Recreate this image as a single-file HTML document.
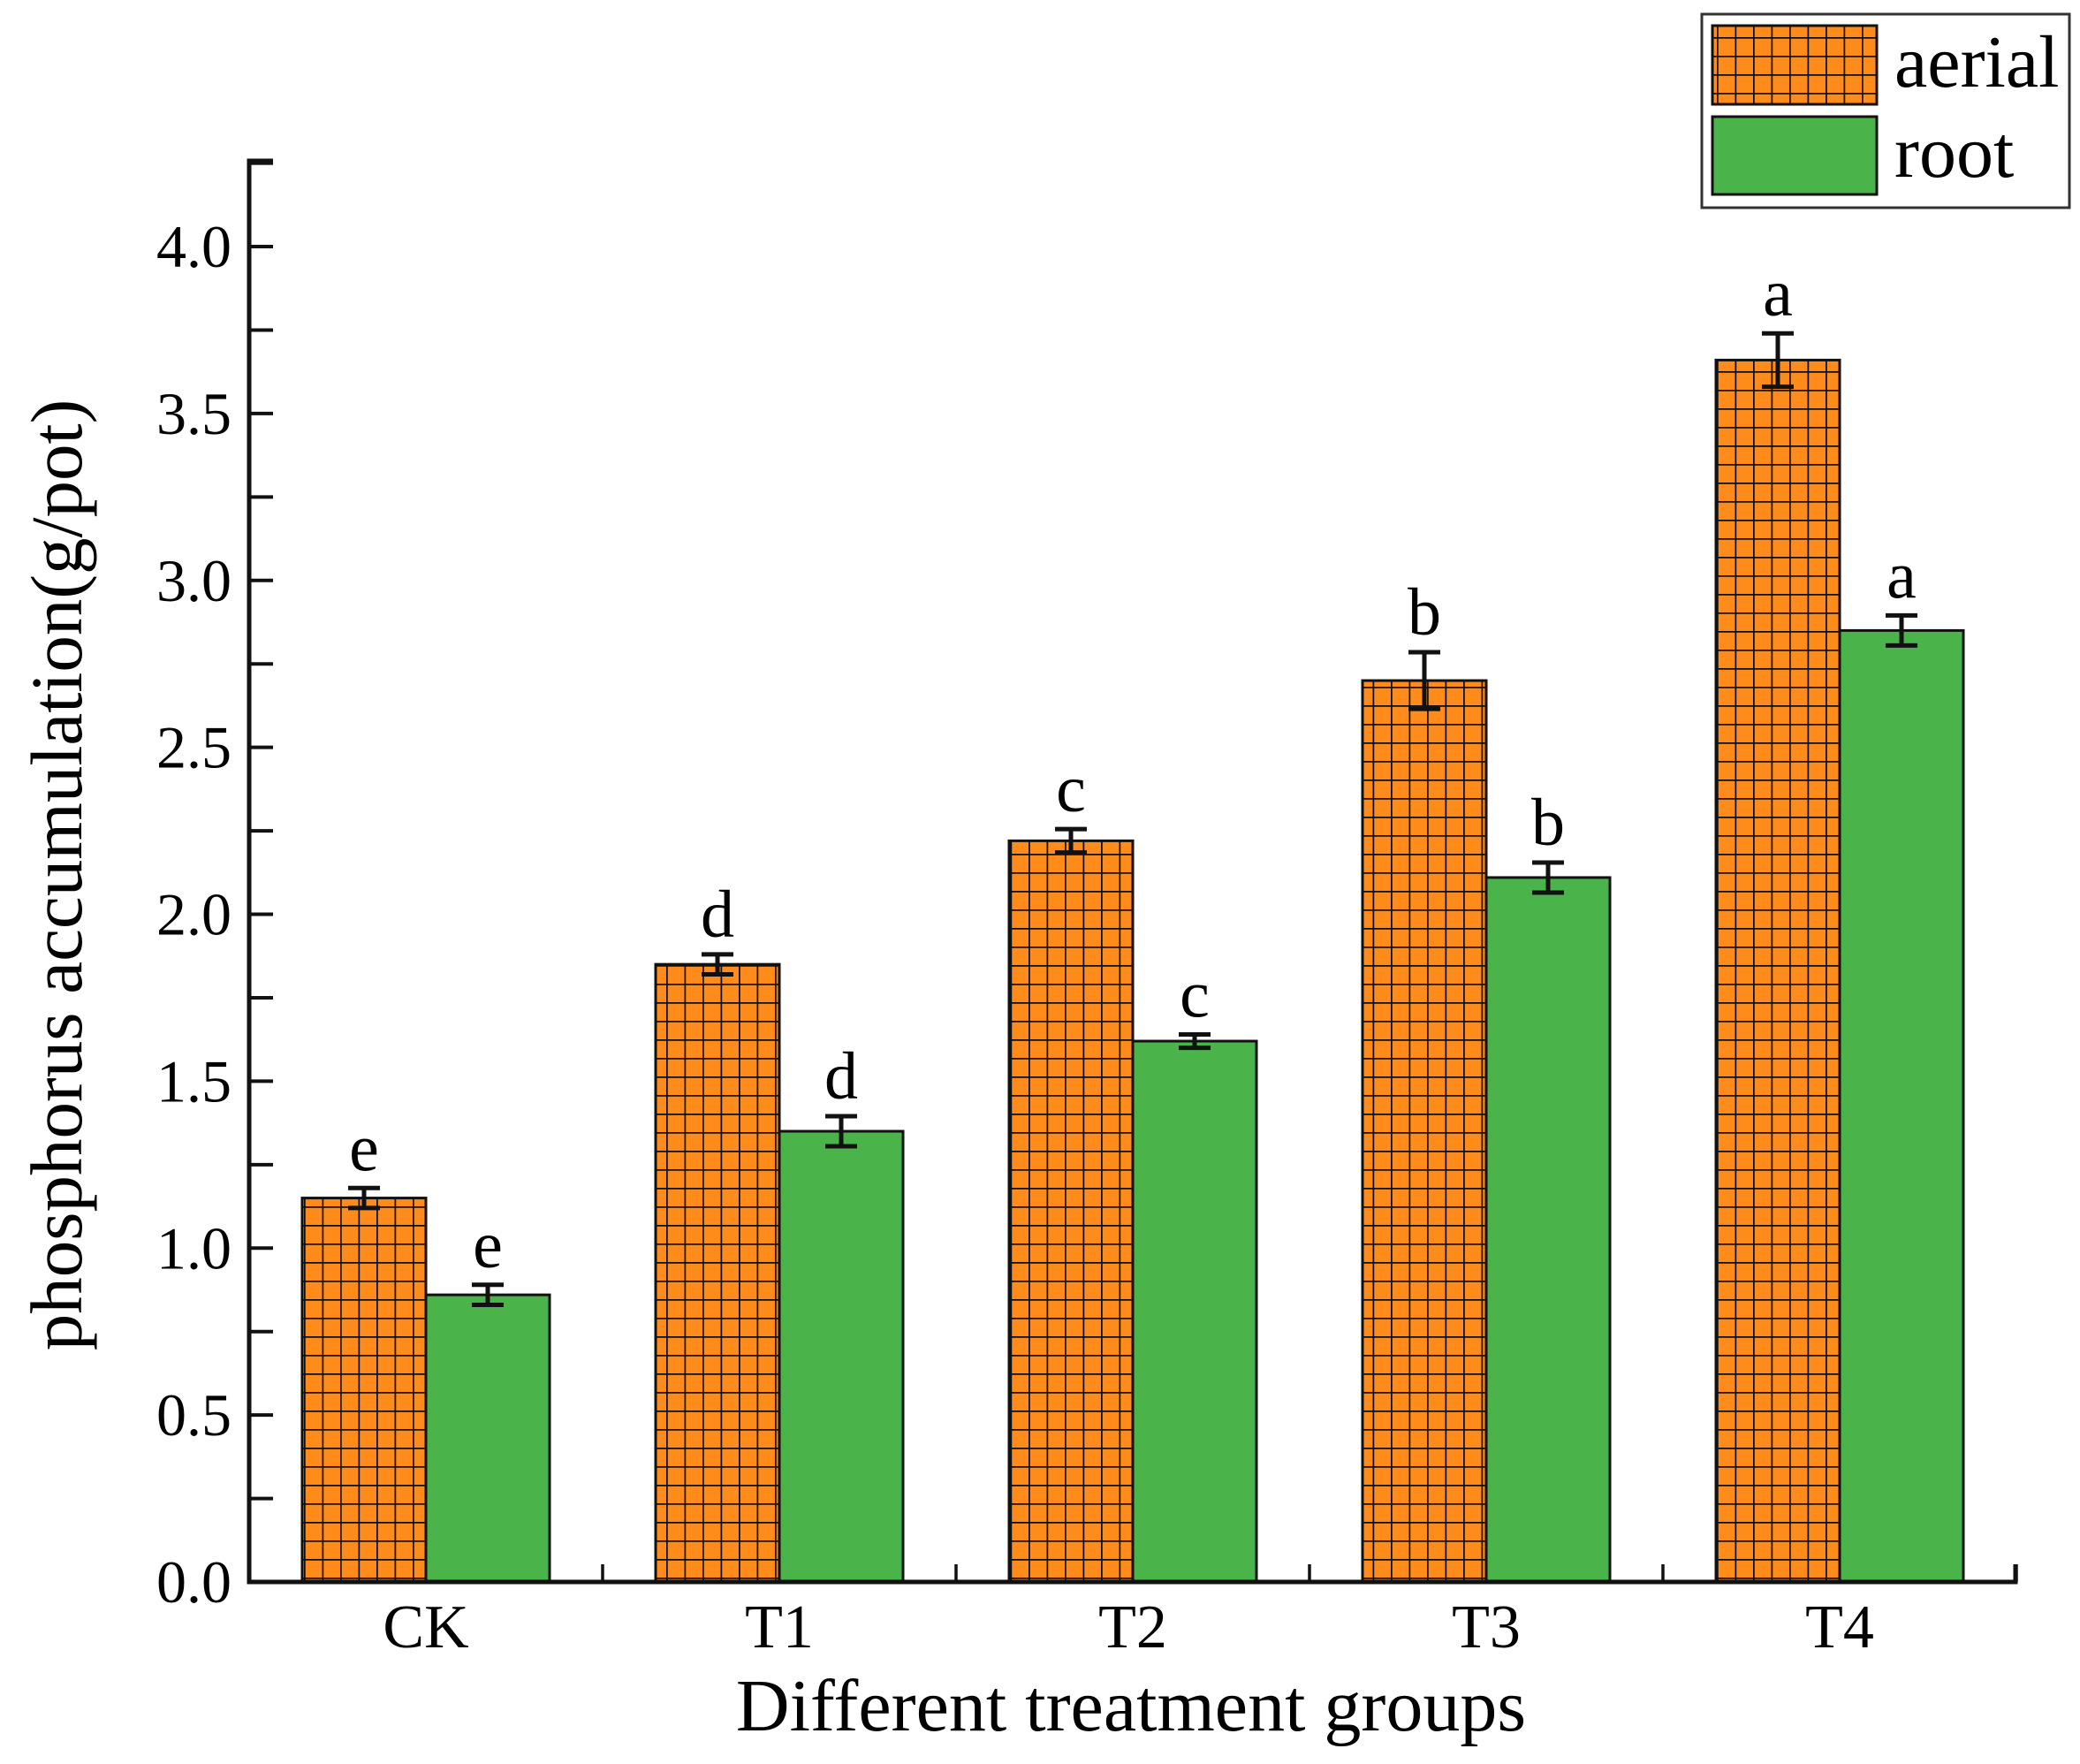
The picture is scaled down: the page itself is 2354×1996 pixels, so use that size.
<!DOCTYPE html>
<html><head><meta charset="utf-8"><style>
html,body{margin:0;padding:0;background:#fff;}
svg{display:block;font-family:"Liberation Serif",serif;}
</style></head><body>
<svg id="chart" width="2354" height="1996" viewBox="0 0 2354 1996" xmlns="http://www.w3.org/2000/svg">
<defs>
<pattern id="grid" patternUnits="userSpaceOnUse" width="20.5" height="21" x="344" y="0">
<rect width="20.5" height="21" fill="#ff8c1a"/>
<path d="M0 0V21M0 0H20.5" stroke="#111" stroke-width="3.5" fill="none"/>
</pattern>
</defs>
<g id="plot"></g>
<g>
<rect x="1926" y="16" width="416" height="219" fill="#fff" stroke="#333" stroke-width="3"/>
<rect x="1938" y="29" width="186" height="89" fill="url(#grid)" stroke="#111" stroke-width="3"/>
<text x="2144" y="98" font-size="84">aerial</text>
<rect x="1938" y="132" width="186" height="88" fill="#4ab44a" stroke="#111" stroke-width="3"/>
<text x="2144" y="200" font-size="84">root</text>
</g>
</svg>
<script>
const categories = ["CK","T1","T2","T3","T4"];
const aerialValues = [1.15,1.85,2.22,2.70,3.66];
const aerialErrors = [0.03,0.03,0.035,0.085,0.08];
const aerialLetters = ["e","d","c","b","a"];
const rootValues = [0.86,1.35,1.62,2.11,2.85];
const rootErrors = [0.03,0.045,0.02,0.045,0.045];
const rootLetters = ["e","d","c","b","a"];
const yTicks = [0.0,0.5,1.0,1.5,2.0,2.5,3.0,3.5,4.0];
const yTickLabels = ["0.0","0.5","1.0","1.5","2.0","2.5","3.0","3.5","4.0"];

const NS="http://www.w3.org/2000/svg";
const X0=282, X1=2281, Y0=1790, UNIT=377.75, TOP=182, GW=400, BW=140;
const y = v => Y0 - v*UNIT;
const gx = i => X0 + GW*i + GW/2;
const g = document.getElementById('plot');
function mk(tag, attrs){const e=document.createElementNS(NS,tag);for(const k in attrs)e.setAttribute(k,attrs[k]);g.appendChild(e);return e;}

function bar(i, v, err, letter, series, left, fill){
  const x = left ? gx(i)-BW : gx(i);
  const r = mk('rect',{x:x,y:y(v),width:BW,height:Y0-y(v),fill:fill,stroke:'#111','stroke-width':3});
  
  
  const cx = x+BW/2;
  const eb = mk('path',{d:`M${cx} ${y(v+err)}V${y(v-err)}M${cx-18} ${y(v+err)}H${cx+18}M${cx-18} ${y(v-err)}H${cx+18}`,stroke:'#111','stroke-width':5,fill:'none'});
  
  
  const t = mk('text',{x:cx,y:y(v+err)-20,'font-size':76,'text-anchor':'middle'});
  t.textContent = letter;
  
  
}
categories.forEach((c,i)=>{
  bar(i, aerialValues[i], aerialErrors[i], aerialLetters[i], 'aerial', true, 'url(#grid)');
  bar(i, rootValues[i], rootErrors[i], rootLetters[i], 'root', false, '#4ab44a');
  const lab = mk('text',{x:gx(i),y:1864,'font-size':70,'text-anchor':'middle'});
  lab.textContent = c;
  
  
  const tk = mk('line',{x1:X0+GW*(i+1),x2:X0+GW*(i+1),y1:Y0,y2:Y0-20,stroke:'#111','stroke-width':3.5});
  
  
});
yTicks.forEach((v,i)=>{
  const tk = mk('line',{x1:X0,x2:X0+27,y1:y(v),y2:y(v),stroke:'#111','stroke-width':4});
  
  
  const mv = v+0.25;
  const mt = mk('line',{x1:X0,x2:X0+27,y1:y(mv),y2:y(mv),stroke:'#111','stroke-width':4});
  
  
  const t = mk('text',{x:262,y:y(v)+23,'font-size':68,'text-anchor':'end'});
  t.textContent = yTickLabels[i];
  
  
});
const ya = mk('path',{d:`M${X0+27} ${TOP}H${X0}V${Y0}H${X1}V${Y0-20}`,stroke:'#111','stroke-width':5,fill:'none'});


const yt = mk('text',{x:0,y:0,'font-size':83,'text-anchor':'middle',transform:'translate(92,990) rotate(-90)'});
yt.textContent = 'phosphorus accumulation(g/pot)';


const xt = mk('text',{x:1280,y:1958,'font-size':84,'text-anchor':'middle'});
xt.textContent = 'Different treatment groups';


</script>
</body></html>
